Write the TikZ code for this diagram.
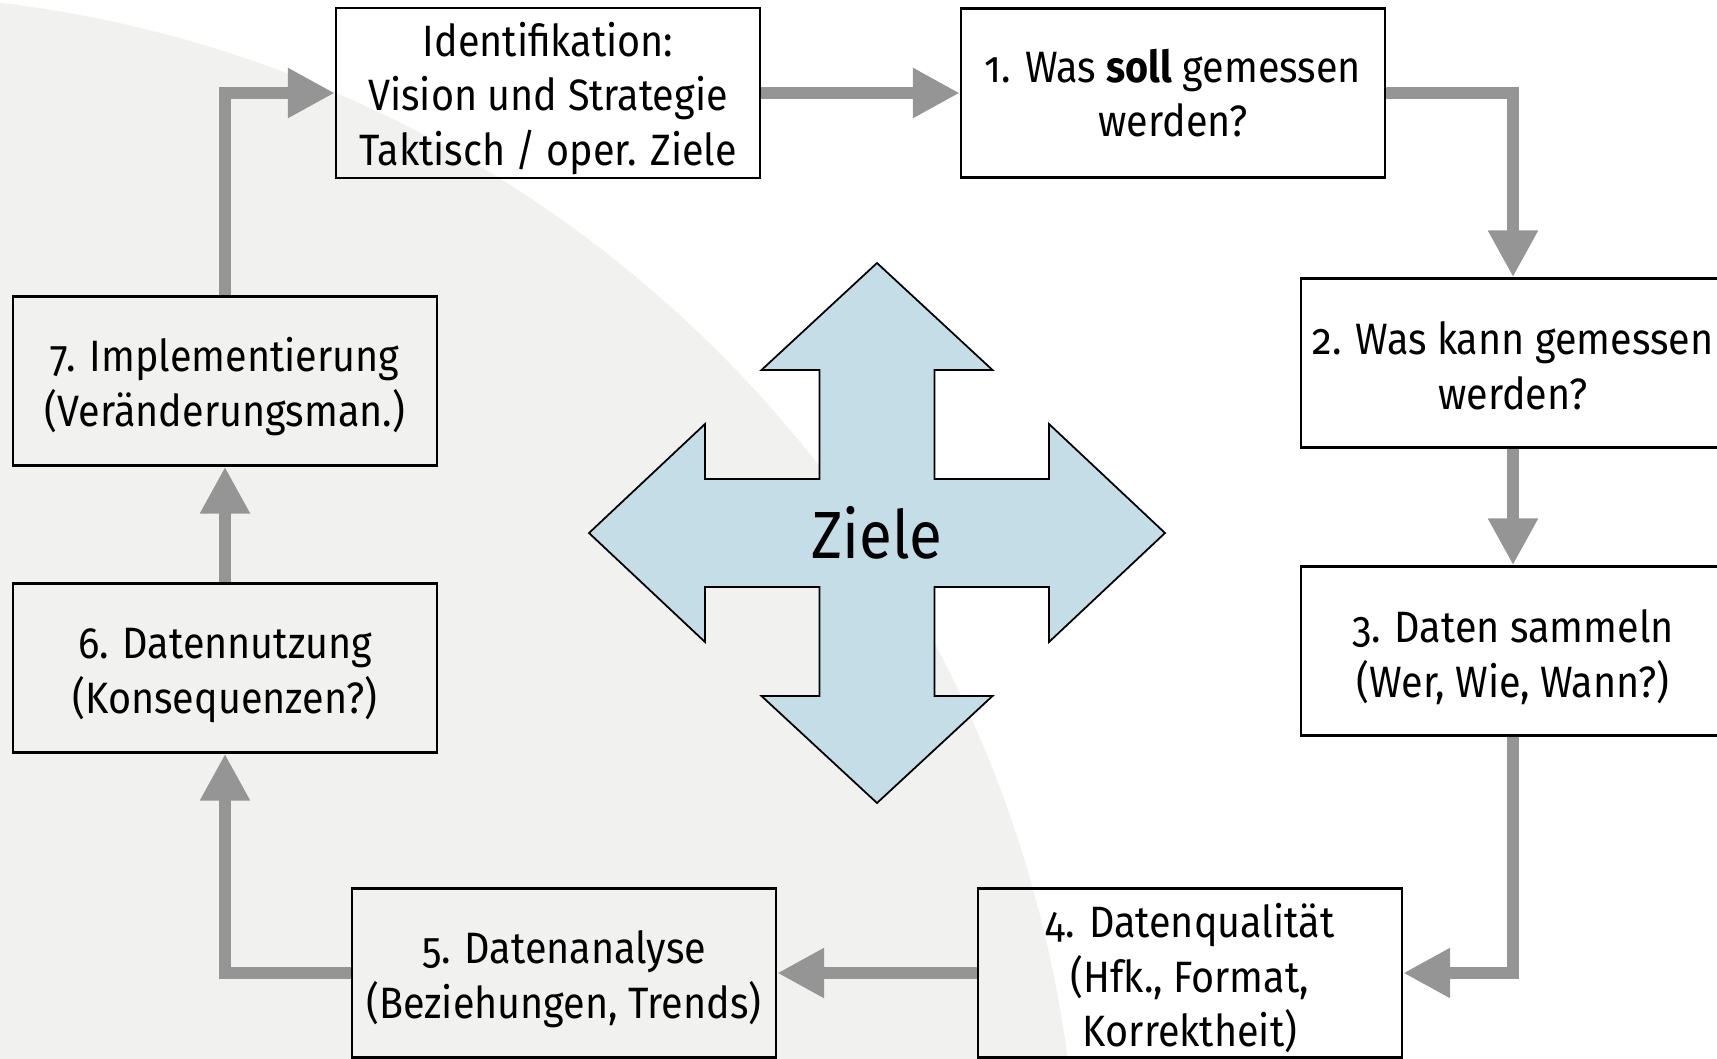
\documentclass[tikz,border=0pt]{standalone}
\usepackage{fontspec}
\setmainfont{Fira Sans}[Numbers=OldStyle, FakeStretch=0.9]
\newcommand*{\stepfont}{\fontsize{12.5}{15.5}\selectfont}
\newcommand*{\goalfont}{\fontsize{19}{22}\selectfont}
% taller first line, so the text sits a little lower in its box
\newcommand*{\topstrut}{\rule{0pt}{12.8pt}}
\definecolor{bgarc}{RGB}{241,241,240}
\definecolor{flowgrey}{RGB}{149,149,149}
\definecolor{goalblue}{RGB}{197,221,230}
\usetikzlibrary{arrows.meta}
\usetikzlibrary{positioning}
\tikzstyle{stepbox}=[draw=black, line width=0.7pt, minimum width=4.24cm, minimum height=1.69cm, inner sep=1pt, align=center, font=\stepfont]
\tikzstyle{flow}=[draw=flowgrey, line width=3.4pt, -{Triangle[length=0.47cm, width=0.47cm]}]
\tikzstyle{goalcross}=[draw=black, line width=0.5pt, fill=goalblue, line join=miter]

\begin{document}
\begin{tikzpicture}
    \useasboundingbox (0,0) rectangle (17.17,10.58);
    \clip (0,0) rectangle (17.17,10.58);
    % grey disc in the back
    \fill [bgarc] (-1.47,-1.61) circle (12.25);

    % the cycle
    \node [stepbox] (ident) at (5.48,9.65) {\topstrut Identifikation:\\Vision und Strategie\\Taktisch / oper. Ziele};
    \node [stepbox] (m1) at (11.73,9.65) {1. Was \textbf{soll} gemessen\\werden?};
    \node [stepbox] (m2) at (15.13,6.95) {\rule{0pt}{11pt}2. Was kann gemessen\\werden?};
    \node [stepbox] (m3) at (15.13,4.07) {\topstrut 3. Daten sammeln\\(Wer, Wie, Wann?)};
    \node [stepbox] (m4) at (11.90,0.85) {\topstrut 4. Datenqualität\\(Hfk., Format,\\Korrektheit)};
    \node [stepbox] (m5) at (5.64,0.85) {\topstrut 5. Datenanalyse\\(Beziehungen, Trends)};
    \node [stepbox] (m6) at (2.25,3.90) {\topstrut 6. Datennutzung\\(Konsequenzen?)};
    \node [stepbox] (m7) at (2.25,6.77) {\topstrut 7. Implementierung\\(Veränderungsman.)};

    \draw [flow] (m7.north) |- (ident.west);
    \draw [flow] (ident) -- (m1);
    \draw [flow] (m1.east) -| (m2.north);
    \draw [flow] (m2) -- (m3);
    \draw [flow] (m3.south) |- (m4.east);
    \draw [flow] (m4) -- (m5);
    \draw [flow] (m5.west) -| (m6.south);
    \draw [flow] (m6) -- (m7);

    % four-way arrow in the middle
    \draw [goalcross, shift={(8.77,5.25)}]
        (0,2.70) -- (1.155,1.63) -- (0.575,1.63) -- (0.575,0.54) -- (1.72,0.54) -- (1.72,1.09)
        -- (2.88,0) -- (1.72,-1.09) -- (1.72,-0.54) -- (0.575,-0.54) -- (0.575,-1.63) -- (1.155,-1.63)
        -- (0,-2.70) -- (-1.155,-1.63) -- (-0.575,-1.63) -- (-0.575,-0.54) -- (-1.72,-0.54) -- (-1.72,-1.09)
        -- (-2.88,0) -- (-1.72,1.09) -- (-1.72,0.54) -- (-0.575,0.54) -- (-0.575,1.63) -- (-1.155,1.63) -- cycle;
    \node [font=\goalfont] (ziele) at (8.77,5.25) {Ziele};
\end{tikzpicture}
\end{document}
